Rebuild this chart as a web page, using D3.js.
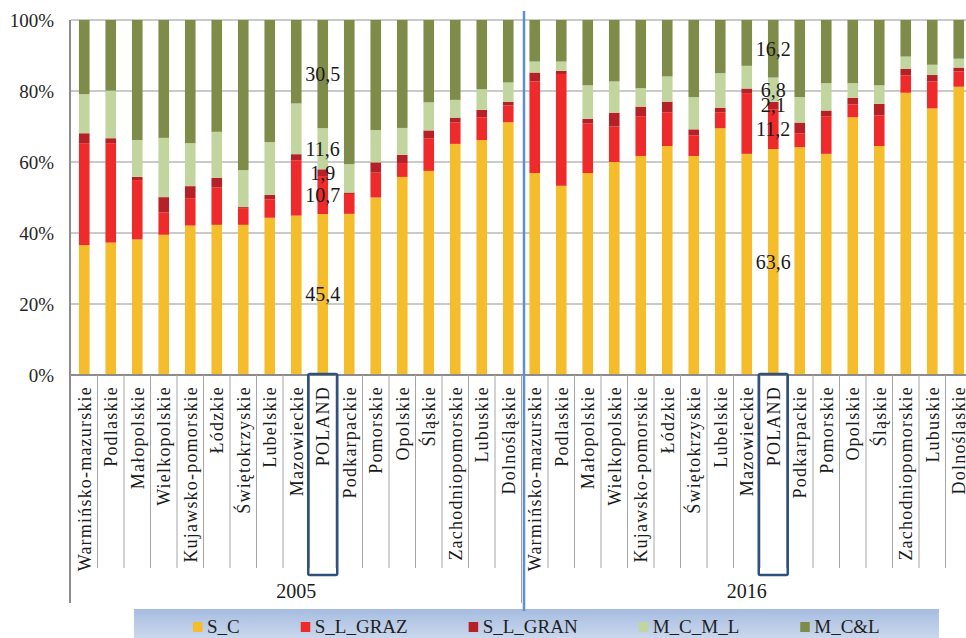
<!DOCTYPE html>
<html>
<head>
<meta charset="utf-8">
<script src="https://cdn.jsdelivr.net/npm/d3@7"></script>
<style>
  body { margin: 0; background: #fff; }
  svg { display: block; font-family: "Liberation Serif", "Times New Roman", serif; }
</style>
</head>
<body>
<div id="chart"></div>
<script>
var regions = ["Warmińsko-mazurskie", "Podlaskie", "Małopolskie", "Wielkopolskie", "Kujawsko-pomorskie",
  "Łódzkie", "Świętokrzyskie", "Lubelskie", "Mazowieckie", "POLAND", "Podkarpackie", "Pomorskie",
  "Opolskie", "Śląskie", "Zachodniopomorskie", "Lubuskie", "Dolnośląskie"];
var years = ["2005", "2016"];
var seriesNames = ["S_C", "S_L_GRAZ", "S_L_GRAN", "M_C_M_L", "M_C&L"];
var seriesColors = ["#f5bc2b", "#ee2a2b", "#b52126", "#c3d59e", "#7f8b49"];

// 2005 shares (%)
var sc2005     = [36.6, 37.3, 38.2, 39.5, 42.1, 42.3, 42.3, 44.3, 44.9, 45.4, 45.4, 50.0, 55.8, 57.5, 65.1, 66.2, 71.2];
var slGraz2005 = [28.7, 28.0, 16.7, 6.3, 7.7, 10.5, 4.7, 5.2, 15.6, 10.7, 5.6, 7.0, 3.9, 9.2, 6.0, 6.4, 4.7];
var slGran2005 = [2.8, 1.4, 0.9, 4.3, 3.4, 2.7, 0.3, 1.2, 1.7, 1.9, 0.4, 2.9, 2.3, 2.2, 1.4, 2.1, 1.0];
var mcml2005   = [11.0, 13.4, 10.4, 16.7, 12.1, 13.0, 10.4, 14.9, 14.3, 11.6, 8.0, 9.1, 7.6, 7.9, 5.0, 5.8, 5.5];
var mcl2005    = [20.9, 19.9, 33.8, 33.2, 34.7, 31.5, 42.3, 34.4, 23.5, 30.5, 40.6, 31.0, 30.4, 23.2, 22.5, 19.5, 17.6];

// 2016 shares (%)
var sc2016     = [56.9, 53.3, 56.9, 60.0, 61.7, 64.5, 61.7, 69.5, 62.3, 63.6, 64.2, 62.3, 72.6, 64.5, 79.5, 75.1, 81.2];
var slGraz2016 = [25.8, 31.5, 14.0, 10.0, 11.2, 9.5, 5.8, 4.5, 17.1, 11.2, 3.9, 10.6, 3.6, 8.6, 4.9, 7.6, 4.3];
var slGran2016 = [2.5, 0.9, 1.3, 3.9, 2.7, 3.0, 1.7, 1.3, 1.3, 2.1, 3.0, 1.6, 1.9, 3.3, 1.8, 1.8, 1.1];
var mcml2016   = [3.1, 2.6, 9.4, 8.8, 5.2, 7.1, 9.1, 9.7, 6.4, 6.8, 7.2, 7.7, 4.1, 5.2, 3.5, 2.9, 2.5];
var mcl2016    = [11.7, 11.7, 18.4, 17.3, 19.2, 15.9, 21.7, 15.0, 12.9, 16.2, 21.7, 17.8, 17.8, 18.4, 10.3, 12.6, 10.9];

var yTicks = [0, 0.2, 0.4, 0.6, 0.8, 1];
var labelledRegion = "POLAND";

var Chart = (function() {

  var valuesByYear = {
    "2005": [sc2005, slGraz2005, slGran2005, mcml2005, mcl2005],
    "2016": [sc2016, slGraz2016, slGran2016, mcml2016, mcl2016]
  };

  var rows = [];
  years.forEach(function(year) {
    regions.forEach(function(region, i) {
      var row = { key: year + "|" + region, year: year, region: region };
      seriesNames.forEach(function(s, j) {
        row[s] = valuesByYear[year][j][i];
      });
      rows.push(row);
    });
  });

  var width = 966;
  var height = 638;
  var left = 71;
  var step = 26.5;
  var plotTop = 20;
  var plotBottom = 375;

  var svg = d3.select("#chart")
              .append("svg")
              .attr("width", width)
              .attr("height", height);

  var x = d3.scaleBand()
            .domain(rows.map(function(d) { return d.key; }))
            .range([left, left + rows.length * step])
            .paddingInner(0.6)
            .paddingOuter(0.3);

  var y = d3.scaleLinear()
            .domain([0, 1])
            .range([plotBottom, plotTop]);

  var color = d3.scaleOrdinal().domain(seriesNames).range(seriesColors);

  var stacked = d3.stack()
                  .keys(seriesNames)
                  .offset(d3.stackOffsetExpand)(rows);

  var xRight = x.range()[1];
  var sepX = function(d) { return x(d.key) + x.bandwidth() / 2 - step / 2; };

  // gridlines
  svg.append("g")
      .selectAll("line")
      .data(yTicks.filter(function(t) { return t > 0; }))
      .enter()
      .append("line")
      .attr("x1", left)
      .attr("x2", xRight)
      .attr("y1", function(d) { return y(d); })
      .attr("y2", function(d) { return y(d); })
      .attr("stroke", "#b8b8b8")
      .attr("stroke-width", 1.5);

  // y axis
  var yAxis = svg.append("g")
      .attr("transform", "translate(" + left + ",0)")
      .call(d3.axisLeft(y).tickValues(yTicks).tickFormat(d3.format(".0%")).tickSize(0).tickPadding(17));
  yAxis.select(".domain").remove();
  yAxis.selectAll("text")
      .attr("font-size", "19px")
      .attr("font-family", "Liberation Serif, serif")
      .attr("fill", "#262626");

  // bars
  svg.append("g")
      .selectAll("g")
      .data(stacked)
      .enter()
      .append("g")
      .attr("fill", function(d) { return color(d.key); })
      .selectAll("rect")
      .data(function(d) { return d; })
      .enter()
      .append("rect")
      .attr("x", function(d) { return x(d.data.key); })
      .attr("y", function(d) { return y(d[1]); })
      .attr("width", x.bandwidth())
      .attr("height", function(d) { return y(d[0]) - y(d[1]); });

  // data labels for POLAND
  var fmt = function(v) { return d3.format(".1f")(v).replace(".", ","); };
  stacked.forEach(function(layer) {
    svg.append("g")
        .selectAll("text")
        .data(layer.filter(function(d) { return d.data.region === labelledRegion; }))
        .enter()
        .append("text")
        .attr("x", function(d) { return x(d.data.key) + x.bandwidth() / 2; })
        .attr("y", function(d) { return y((d[0] + d[1]) / 2); })
        .attr("dy", "0.35em")
        .attr("text-anchor", "middle")
        .attr("font-size", "20px")
        .attr("fill", "#1a1a1a")
        .text(function(d) { return fmt(d.data[layer.key]); });
  });

  // axis lines
  svg.append("line")
      .attr("x1", left).attr("x2", xRight)
      .attr("y1", plotBottom).attr("y2", plotBottom)
      .attr("stroke", "#8c8c8c").attr("stroke-width", 2);
  svg.append("line")
      .attr("x1", left - 1).attr("x2", left - 1)
      .attr("y1", plotTop).attr("y2", 603)
      .attr("stroke", "#8c8c8c").attr("stroke-width", 2);

  // category separators
  svg.append("g")
      .selectAll("line")
      .data(rows.slice(1))
      .enter()
      .append("line")
      .attr("x1", sepX)
      .attr("x2", sepX)
      .attr("y1", plotBottom)
      .attr("y2", function(d) { return d.region === regions[0] ? 603 : 568; })
      .attr("stroke", "#a6a6a6")
      .attr("stroke-width", 1);

  // x axis labels
  var xAxis = svg.append("g")
      .attr("transform", "translate(0," + plotBottom + ")")
      .call(d3.axisBottom(x).tickSize(0).tickFormat(function(k) { return k.split("|")[1]; }));
  xAxis.select(".domain").remove();
  xAxis.selectAll("text")
      .attr("transform", "rotate(-90)")
      .attr("x", -11)
      .attr("y", 0)
      .attr("dy", "0.36em")
      .attr("text-anchor", "end")
      .attr("font-size", "18px")
      .attr("letter-spacing", "1.2px")
      .attr("font-family", "Liberation Serif, serif")
      .attr("fill", "#1a1a1a");

  // POLAND boxes
  svg.append("g")
      .selectAll("rect")
      .data(rows.filter(function(d) { return d.region === labelledRegion; }))
      .enter()
      .append("rect")
      .attr("x", function(d) { return x(d.key) + x.bandwidth() / 2 - 14.5; })
      .attr("y", 374)
      .attr("width", 29)
      .attr("height", 201)
      .attr("rx", 1.5)
      .attr("fill", "none")
      .attr("stroke", "#30507e")
      .attr("stroke-width", 2.5);

  // year labels
  svg.append("g")
      .selectAll("text")
      .data(years)
      .enter()
      .append("text")
      .attr("x", function(yr) {
        var keys = rows.filter(function(d) { return d.year === yr; });
        var a = x(keys[0].key), b = x(keys[keys.length - 1].key) + x.bandwidth();
        return (a + b) / 2;
      })
      .attr("y", 598)
      .attr("text-anchor", "middle")
      .attr("font-size", "20px")
      .attr("fill", "#1a1a1a")
      .text(function(d) { return d; });

  // legend box
  var defs = svg.append("defs");
  var grad = defs.append("linearGradient")
      .attr("id", "legendFill")
      .attr("x1", 0).attr("y1", 0).attr("x2", 0).attr("y2", 1);
  grad.append("stop").attr("offset", "0%").attr("stop-color", "#a6bce0");
  grad.append("stop").attr("offset", "100%").attr("stop-color", "#d8e2f1");

  svg.append("rect")
      .attr("x", 134)
      .attr("y", 609)
      .attr("width", 805)
      .attr("height", 40)
      .attr("fill", "url(#legendFill)");

  // divider between years
  var splitX = sepX(rows[regions.length]) + 2.5;
  svg.append("line")
      .attr("x1", splitX).attr("x2", splitX)
      .attr("y1", 11).attr("y2", 611)
      .attr("stroke", "#5f8fd3")
      .attr("stroke-width", 2.5);

  // legend items
  var lx = 193;
  seriesNames.forEach(function(s) {
    svg.append("rect")
        .attr("x", lx)
        .attr("y", 622)
        .attr("width", 9.5)
        .attr("height", 10)
        .attr("fill", color(s));
    var t = svg.append("text")
        .attr("x", lx + 14)
        .attr("y", 633)
        .attr("font-size", "19px")
        .attr("fill", "#1f1f1f")
        .text(s);
    lx += 14 + t.node().getComputedTextLength() + 61;
  });

})();
</script>
</body>
</html>
